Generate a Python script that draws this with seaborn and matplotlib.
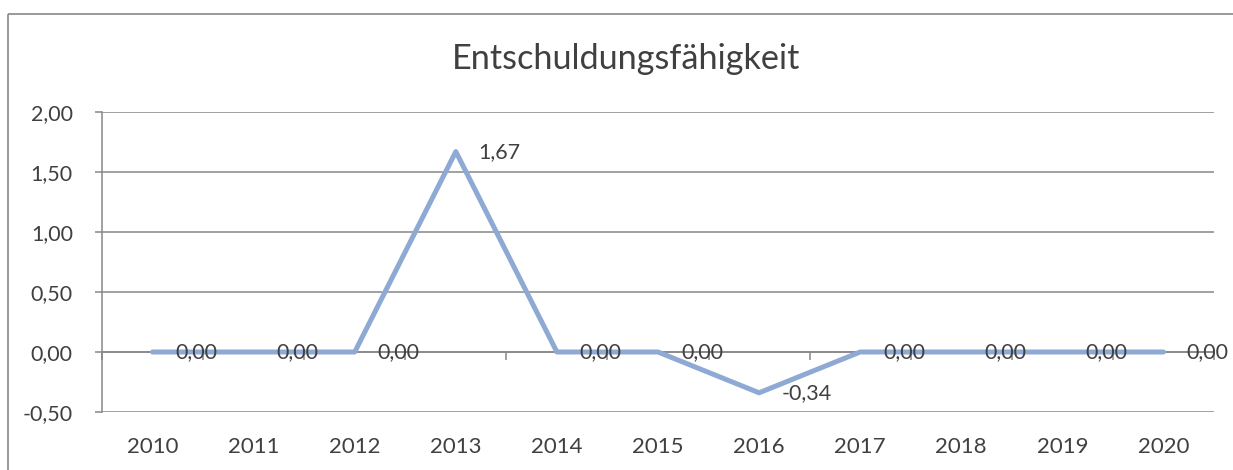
import matplotlib
matplotlib.use('Agg')
import matplotlib.pyplot as plt
import matplotlib.ticker as mticker
from matplotlib.lines import Line2D
import numpy as np
import pandas as pd
import seaborn as sns

# data
years = ['2010', '2011', '2012', '2013', '2014', '2015', '2016', '2017', '2018', '2019', '2020']
values = [0.00, 0.00, 0.00, 1.67, 0.00, 0.00, -0.34, 0.00, 0.00, 0.00, 0.00]
y_ticks = [-0.5, 0.0, 0.5, 1.0, 1.5, 2.0]
title = 'Entschuldungsfähigkeit'

line_color = '#8EA9D4'
grid_color = '#878787'
text_color = '#404040'

sns.set_theme(style='white')
plt.rcParams['font.family'] = ['Lato', 'DejaVu Sans']

df = pd.DataFrame({'pos': np.arange(len(years)), 'value': values})

fig = plt.figure(figsize=(12.33, 4.70), dpi=100, facecolor='white')
fig.patch.set_linewidth(0)
ax = fig.add_axes([102 / 1233, 1 - 412 / 470, (1214 - 102) / 1233, 300 / 470])

# chart border: left edge, and top edge running to the right side
bx, by = 7.5 / 1233, 1 - 13.5 / 470
fig.add_artist(Line2D([bx, bx], [0.0, by], transform=fig.transFigure,
                      color=grid_color, linewidth=1.2, solid_capstyle='butt'))
fig.add_artist(Line2D([bx, 1.0], [by, by], transform=fig.transFigure,
                      color=grid_color, linewidth=1.2, solid_capstyle='butt'))

ax.set_ylim(y_ticks[0], y_ticks[-1])
ax.set_xlim(-0.5, len(years) - 0.5)
ax.set_yticks(y_ticks)
ax.yaxis.set_major_formatter(mticker.FuncFormatter(lambda v, p: f'{v:.2f}'.replace('.', ',')))
ax.grid(axis='y', color=grid_color, linewidth=1.1)
ax.set_axisbelow(True)

for s in ['top', 'right', 'bottom']:
    ax.spines[s].set_visible(False)
ax.spines['left'].set_color(grid_color)
ax.spines['left'].set_linewidth(1.1)

ax.tick_params(axis='y', which='major', left=True, length=5, width=1.1, color=grid_color,
               pad=16, labelsize=15.5, labelcolor=text_color)
ax.set_xticks(df['pos'])
ax.set_xticklabels(years)
ax.tick_params(axis='x', bottom=False, pad=12, labelsize=16, labelcolor=text_color)

# category axis crossing at zero, with marks between categories
sec = ax.secondary_xaxis((0 - y_ticks[0]) / (y_ticks[-1] - y_ticks[0]))
sec.set_xticks(np.arange(len(years) + 1) - 0.5)
sec.tick_params(axis='x', direction='out', length=6, width=1.1, color=grid_color, labelbottom=False)
sec.spines['bottom'].set_color(grid_color)
sec.spines['bottom'].set_linewidth(1.1)

sns.lineplot(data=df, x='pos', y='value', ax=ax, color=line_color, linewidth=3.6,
             solid_capstyle='round', solid_joinstyle='round', zorder=3)
ax.set_xlabel('')
ax.set_ylabel('')

for x, v in zip(df['pos'], df['value']):
    ax.annotate(f'{v:.2f}'.replace('.', ','), (x, v), xytext=(16.5, 0),
                textcoords='offset points', ha='left', va='center',
                fontsize=15.5, color=text_color, zorder=4)

fig.text(626 / 1233, 1 - 69 / 470, title, ha='center', va='baseline',
         fontsize=24.7, color=text_color)

fig.savefig('out.png', dpi=100, facecolor='white')
